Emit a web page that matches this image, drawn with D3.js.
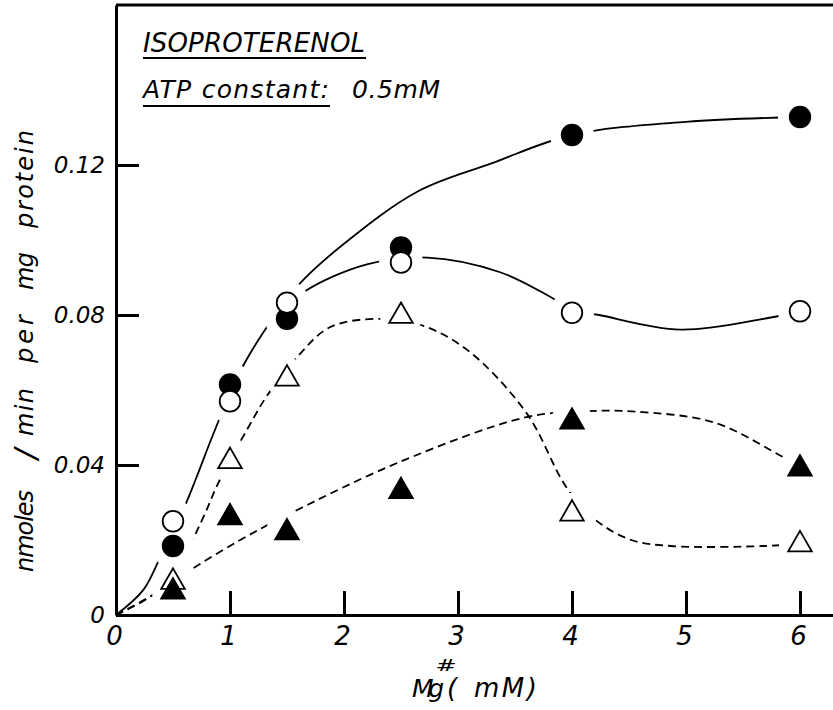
<!DOCTYPE html>
<html>
<head>
<meta charset="utf-8">
<script src="https://cdn.jsdelivr.net/npm/d3@7"></script>
<style>
  body { margin: 0; background: #fff; }
  text { font-family: "DejaVu Sans", sans-serif; font-style: italic; fill: #000; }
</style>
</head>
<body>
<svg width="833" height="710"></svg>
<script>
// Mg concentrations (mM) where points were measured
var mgValues = [0.5, 1, 1.5, 2.5, 4, 6];

// nmoles / min per mg protein
var filledCircles   = [0.0184, 0.0615, 0.079, 0.098, 0.128, 0.1328];
var openCircles     = [0.025, 0.057, 0.0833, 0.094, 0.0806, 0.081];
var openTriangles   = [0.0088, 0.041, 0.063, 0.0797, 0.027, 0.0188];
var filledTriangles = [0.0062, 0.026, 0.022, 0.033, 0.0515, 0.039];

// hand drawn curves as [mM, value]
var curveSolidUpper = [[0, 0], [0.24, 0.0067], [0.39, 0.0155], [0.6, 0.0288], [0.71, 0.037], [0.85, 0.048],
                       [1.09, 0.065], [1.35, 0.078], [1.6, 0.088], [2, 0.099], [2.65, 0.113], [3.3, 0.1205],
                       [4, 0.128], [5, 0.1315], [6, 0.1328]];
var curveSolidLower = [[1.35, 0.078], [1.64, 0.086], [2.2, 0.0935], [2.73, 0.0953], [3.37, 0.0914], [3.8, 0.085],
                       [4, 0.0815], [4.24, 0.080], [4.95, 0.0761], [5.72, 0.0792], [6, 0.081]];
var curveDashedOpen = [[0, 0], [0.32, 0.0053], [0.54, 0.0125], [0.75, 0.025], [0.91, 0.036], [1.16, 0.050],
                       [1.33, 0.0587], [1.59, 0.0688], [1.88, 0.0768], [2.33, 0.079], [2.67, 0.0774], [3.08, 0.0707],
                       [3.6, 0.0539], [3.95, 0.0341], [4.2, 0.0255], [4.52, 0.020], [4.87, 0.0184], [5.69, 0.0184],
                       [6, 0.019]];
var curveDashedFilled = [[0, 0], [0.32, 0.0053], [0.6, 0.011], [1.09, 0.020], [1.55, 0.0274], [2.48, 0.0407],
                         [3.59, 0.0527], [4.1, 0.0543], [4.52, 0.0543], [5.25, 0.0513], [5.86, 0.042], [6, 0.04]];

var xTicks = [0, 1, 2, 3, 4, 5, 6];
var yTicks = [0, 0.04, 0.08, 0.12];
var yTickLabels = ["0", "0.04", "0.08", "0.12"];

// y axis title words with the page span (top, bottom) each one covers
var yTitleWords = [["protein", 130, 228], ["mg", 252, 290], ["per", 315, 363],
                   ["min", 388, 436], ["/", 442, 466], ["nmoles", 490, 572]];

var margin = {top: 5, right: 0, bottom: 95, left: 116},
    width = 833 - margin.left - margin.right,
    height = 710 - margin.top - margin.bottom;

var x = d3.scaleLinear().domain([0, width / 114]).range([0, width]);
var y = d3.scaleLinear().domain([0, height / 3750]).range([height, 0]);

var svg = d3.select("svg")
  .append("g")
  .attr("transform", "translate(" + margin.left + "," + margin.top + ")");

// top frame line
svg.append("line")
  .attr("x1", 0).attr("x2", width)
  .attr("y1", 0).attr("y2", 0)
  .style("stroke", "#000").style("stroke-width", 3);

// curves
var line = d3.line()
  .x(function(d) { return x(d[0]); })
  .y(function(d) { return y(d[1]); })
  .curve(d3.curveCatmullRom.alpha(0.5));

var curves = svg.append("g").attr("class", "curves");
[[curveSolidUpper, null], [curveSolidLower, null],
 [curveDashedOpen, "8,5"], [curveDashedFilled, "8,5"]].forEach(function(c) {
  curves.append("path")
    .datum(c[0])
    .attr("d", line)
    .style("fill", "none")
    .style("stroke", "#000")
    .style("stroke-width", 1.8)
    .style("stroke-dasharray", c[1]);
});

// points
var series = [
  {values: filledCircles, shape: "circle", fill: "#000"},
  {values: openCircles, shape: "circle", fill: "#fff"},
  {values: openTriangles, shape: "triangle", fill: "#fff"},
  {values: filledTriangles, shape: "triangle", fill: "#000"}
];

var points = [];
series.forEach(function(s) {
  s.values.forEach(function(v, i) {
    points.push({mg: mgValues[i], v: v, shape: s.shape, fill: s.fill});
  });
});

// white gap around each marker, like the drawn original
svg.append("g").attr("class", "halos")
  .selectAll("circle")
  .data(points)
  .enter().append("circle")
  .attr("cx", function(d) { return x(d.mg); })
  .attr("cy", function(d) { return y(d.v); })
  .attr("r", function(d) { return d.shape === "circle" ? 22 : 21; })
  .attr("fill", "#ffffff")
  .attr("stroke", "none");

var tri = d3.symbol().type(d3.symbolTriangle).size(240);
var circ = d3.symbol().type(d3.symbolCircle).size(Math.PI * 10.3 * 10.3);

svg.append("g").attr("class", "dots")
  .selectAll("path")
  .data(points)
  .enter().append("path")
  .attr("transform", function(d) { return "translate(" + x(d.mg) + "," + y(d.v) + ")"; })
  .attr("d", function(d) { return d.shape === "circle" ? circ() : tri(); })
  .style("fill", function(d) { return d.fill; })
  .style("stroke", "#000")
  .style("stroke-width", 1.8);

// axes
var yAxis = d3.axisLeft(y)
  .tickValues(yTicks)
  .tickSize(-23)
  .tickSizeOuter(0)
  .tickPadding(11)
  .tickFormat(function(d, i) { return yTickLabels[i]; });

var xAxis = d3.axisBottom(x)
  .tickValues(xTicks)
  .tickSize(-24)
  .tickSizeOuter(0)
  .tickPadding(12)
  .tickFormat(d3.format("d"));

var gy = svg.append("g").attr("class", "y axis").call(yAxis);
var gx = svg.append("g").attr("class", "x axis")
  .attr("transform", "translate(0," + height + ")")
  .call(xAxis);

[gx, gy].forEach(function(g) {
  g.select(".domain").style("stroke-width", 3);
  g.selectAll(".tick line").style("stroke-width", 3);
  g.selectAll("text").attr("font-family", null).attr("font-size", null);
});
gy.selectAll("text").style("font-size", "23px");
gx.selectAll("text").style("font-size", "26px").attr("dx", "-2");

// titles
svg.append("text")
  .attr("x", 27).attr("y", 47)
  .attr("textLength", 222)
  .style("font-size", "26px")
  .text("ISOPROTERENOL");
svg.append("line")
  .attr("x1", 27).attr("x2", 250).attr("y1", 53).attr("y2", 53)
  .style("stroke", "#000").style("stroke-width", 2);

svg.append("text")
  .attr("x", 27).attr("y", 93)
  .attr("textLength", 186)
  .style("font-size", "25px")
  .text("ATP constant:");
svg.append("line")
  .attr("x1", 27).attr("x2", 214).attr("y1", 101).attr("y2", 101)
  .style("stroke", "#000").style("stroke-width", 2);
svg.append("text")
  .attr("x", 236).attr("y", 93)
  .attr("textLength", 88)
  .style("font-size", "25px")
  .text("0.5mM");

// Y axis label, one piece per hand lettered word
var root = d3.select("svg");
yTitleWords.forEach(function(w) {
  var t = root.append("text")
    .attr("transform", "translate(33," + ((w[1] + w[2]) / 2) + ") rotate(-90)")
    .style("text-anchor", "middle")
    .style("font-size", w[0] === "/" ? "31px" : "24px")
    .text(w[0]);
  if (w[0] !== "/") t.attr("textLength", w[2] - w[1]);
  else t.attr("dy", "0.1em");
});

// X axis label
root.append("text")
  .attr("x", 412).attr("y", 697)
  .attr("textLength", 32)
  .style("font-size", "25px")
  .text("Mg");
root.append("text")
  .attr("transform", "translate(446,671) scale(1.35,0.8)")
  .style("text-anchor", "middle")
  .style("font-size", "19px")
  .text("#");
root.append("text")
  .attr("x", 447).attr("y", 697)
  .style("font-size", "26px")
  .text("(");
root.append("text")
  .attr("x", 474).attr("y", 697)
  .attr("textLength", 63)
  .style("font-size", "26px")
  .text("mM)");
</script>
</body>
</html>
